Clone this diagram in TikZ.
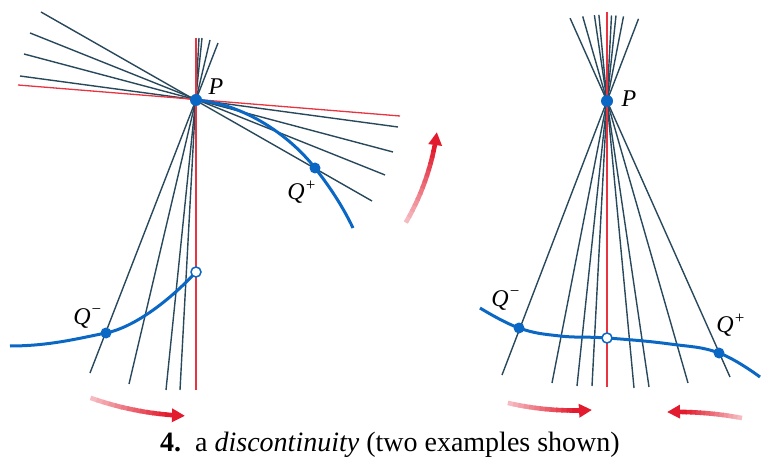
\documentclass[tikz,border=0pt]{standalone}
\usepackage{fontspec}
\setmainfont{Liberation Serif}
\usetikzlibrary{calc,arrows.meta}
\definecolor{darkline}{RGB}{40,72,92}
\definecolor{curveblue}{RGB}{10,104,196}
\definecolor{thinred}{RGB}{232,52,64}
\definecolor{arrowred}{RGB}{226,28,46}
% #1 center, #2 radius, #3 tail angle, #4 shaft end angle, #5 tip angle
\newcommand\fadearc[5]{%
  \foreach \i in {0,...,11}{%
    \pgfmathsetmacro\sa{#3+(#4-#3)*\i/12}%
    \pgfmathsetmacro\ea{#3+(#4-#3)*(\i+1.2)/12}%
    \pgfmathsetmacro\pc{30+65*\i/11}%
    \draw[line width=4.6pt, draw=arrowred!\pc!white] ($(#1)+(\sa:#2)$) arc[start angle=\sa, end angle=\ea, radius=#2pt];
  }%
  \draw[line width=4.6pt, draw=arrowred, -{Triangle[length=13pt,width=13pt]}] ($(#1)+(#4:#2)$) arc[start angle=#4, end angle=#5, radius=#2pt];
}
\begin{document}
\begin{tikzpicture}[x=1pt,y=1pt,
  secant/.style={draw=darkline, line width=1.4pt},
  redline/.style={draw=thinred, line width=1.3pt},
  curve/.style={draw=curveblue, line width=3pt},
  dot/.style={fill=curveblue},
  lab/.style={font=\fontsize{24}{26}\selectfont\itshape, inner sep=0pt},
  capt/.style={font=\fontsize{28}{30}\selectfont, inner sep=0pt}]
\useasboundingbox (0,0) rectangle (762,466);
% ---------- left example ----------
\coordinate (P) at (196,366);
\coordinate (Qp) at (315,298);
\coordinate (Qm) at (106,133);
\coordinate (O1) at (196,194);
\coordinate (Ra) at (18,381);  \coordinate (Rb) at (400,350);
\coordinate (Rc) at (196,428); \coordinate (Rd) at (196,76);
\coordinate (L1a) at (41,454); \coordinate (L1b) at (372,265);
\coordinate (L2a) at (30,433); \coordinate (L2b) at (385,291);
\coordinate (L3a) at (24,412); \coordinate (L3b) at (393,314);
\coordinate (L4a) at (20,390); \coordinate (L4b) at (398,339);
\coordinate (V1a) at (218,423); \coordinate (V1b) at (90,93);
\coordinate (V2a) at (210,426); \coordinate (V2b) at (129,82);
\coordinate (V3a) at (202,428); \coordinate (V3b) at (166,76);
\coordinate (V4a) at (199,428); \coordinate (V4b) at (180,76);
\foreach \n in {L1,L2,L3,L4,V1,V2,V3,V4} \draw[secant] (\n a) -- (\n b);
\draw[redline] (Ra) -- (Rb);
\draw[redline] (Rc) -- (Rd);
\draw[curve] (P) .. controls (245,362) and (290,330) .. (Qp)
             .. controls (330,279) and (343,259) .. (353,238);
\draw[curve] (10,120) .. controls (50,120) and (80,128) .. (Qm)
             .. controls (135,139) and (170,166) .. (O1);
\fill[dot] (P) circle[radius=6pt];
\fill[dot] (Qp) circle[radius=5.5pt];
\fill[dot] (Qm) circle[radius=5.5pt];
\draw[draw=curveblue, fill=white, line width=1.5pt] (O1) circle[radius=5pt];
\node[lab] (lP) at (216,379) {P};
\node[lab] (lQp) at (302,274) {Q\textsuperscript{+}};
\node[lab] (lQm) at (88,148) {Q\textsuperscript{\char"2212}};
\fadearc{P}{316}{250.5}{264.4}{268}
\fadearc{P}{243}{-30.3}{-12.3}{-7.6}
% ---------- right example ----------
\coordinate (P2) at (607,365);
\coordinate (Rt) at (607,454); \coordinate (Rbt) at (607,79);
\coordinate (B1) at (502,91);
\coordinate (B2) at (552,83);
\coordinate (B3) at (577,80);
\coordinate (B4) at (592,80);
\coordinate (B5) at (634,78);
\coordinate (B6) at (649,79);
\coordinate (B7) at (688,83);
\coordinate (B8) at (730,89);
\foreach \n in {B1,B2,B3,B4,B5,B6,B7,B8} \draw[secant] ($(P2)!-0.3!(\n)$) -- (\n);
\draw[redline] (Rt) -- (Rbt);
\coordinate (Qm2) at (519,138);
\coordinate (O2) at (607,128);
\coordinate (Qp2) at (719,113);
\draw[curve] plot[smooth, tension=0.7] coordinates {(480,158) (Qm2) (560,130) (O2) (670,122) (Qp2) (760,89)};
\fill[dot] (P2) circle[radius=6pt];
\fill[dot] (Qm2) circle[radius=5.5pt];
\fill[dot] (Qp2) circle[radius=5.5pt];
\draw[draw=curveblue, fill=white, line width=1.5pt] (O2) circle[radius=5pt];
\node[lab] (lP2) at (629,367) {P};
\node[lab] (lQm2) at (506,166) {Q\textsuperscript{\char"2212}};
\node[lab] (lQp2) at (731,141) {Q\textsuperscript{+}};
\coordinate (C3) at (574.2,350.5);
\fadearc{C3}{295}{257.0}{269.6}{273.46}
\coordinate (C4) at (676.4,-300.4);
\fadearc{C4}{354.5}{79.34}{88.3}{91.52}
% ---------- caption ----------
\node[capt, anchor=base] (cap) at (390,15) {\textbf{4.}\ \ a \textit{discontinuity} (two examples shown)};
\end{tikzpicture}
\end{document}
